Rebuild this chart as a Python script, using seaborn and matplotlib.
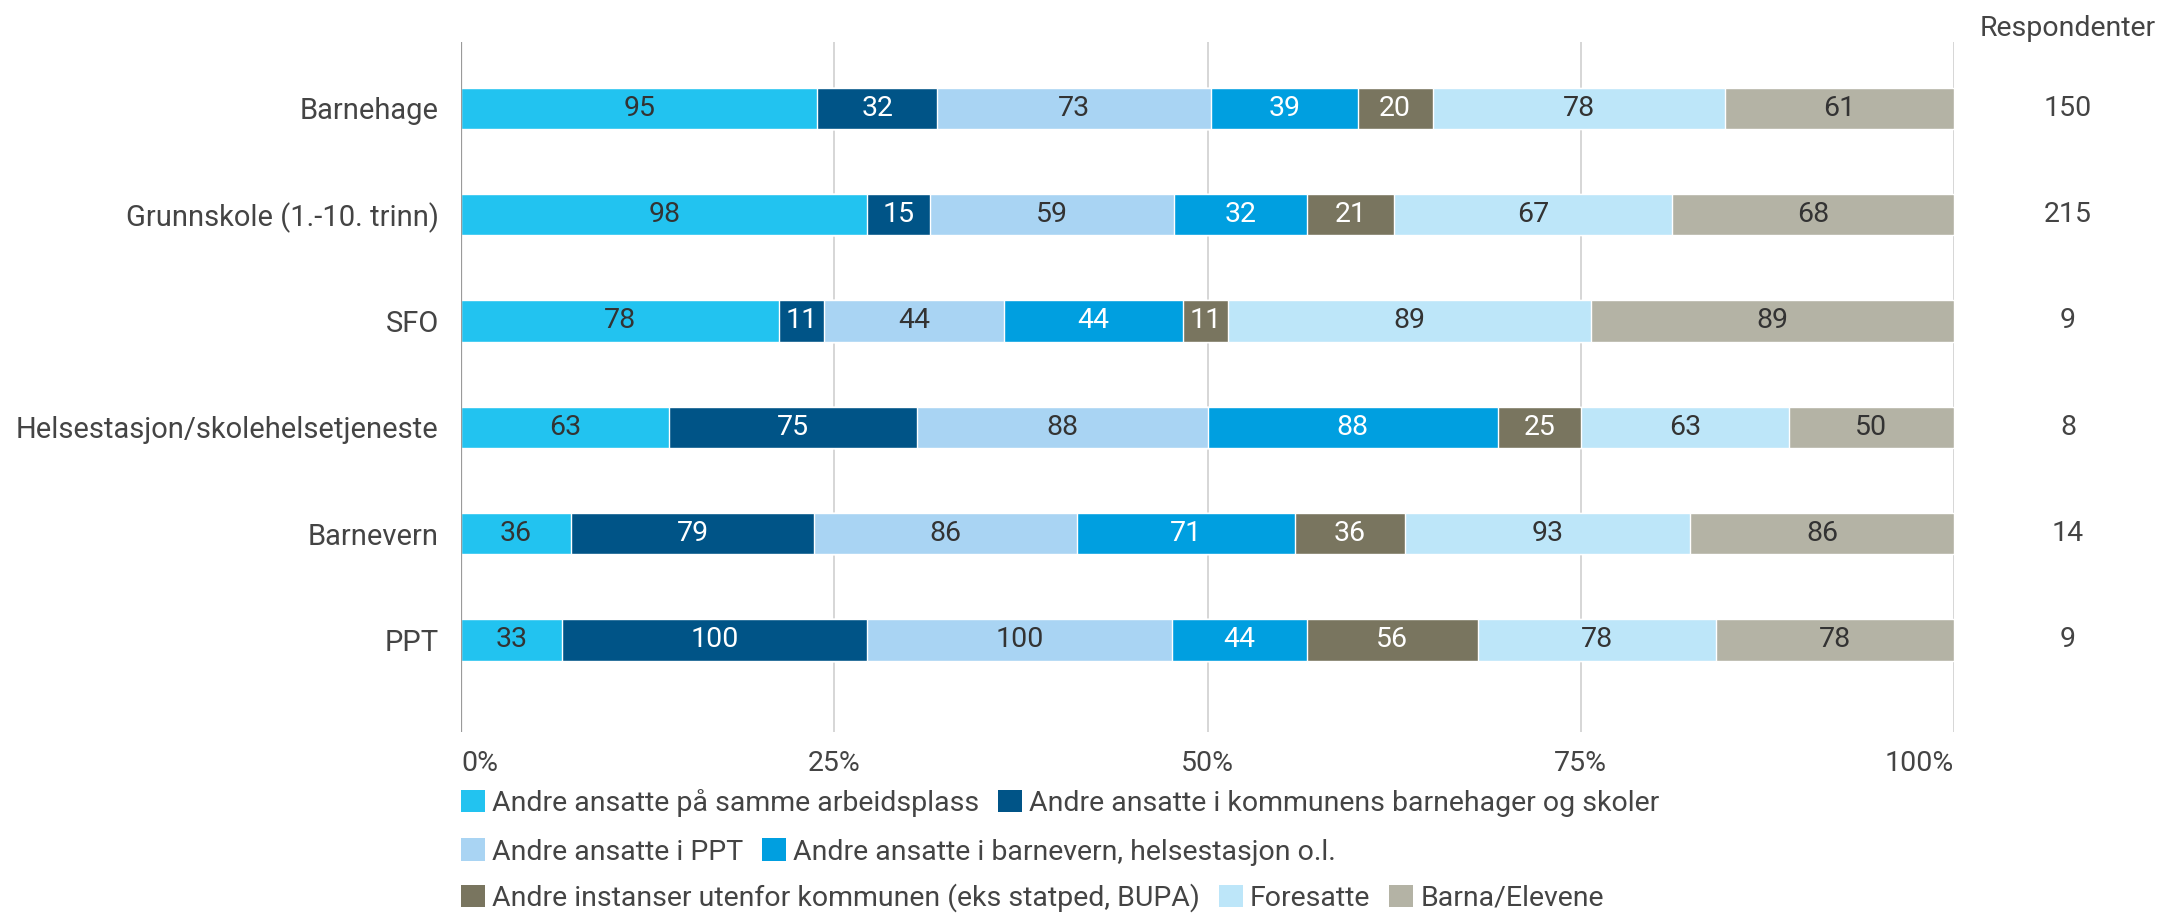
import matplotlib
matplotlib.use("Agg")
import matplotlib.pyplot as plt
import matplotlib.transforms as mtransforms
from matplotlib.patches import Patch
import numpy as np
import pandas as pd
import seaborn as sns

# Respondent groups (rows)
categories = [
    "Barnehage",
    "Grunnskole (1.-10. trinn)",
    "SFO",
    "Helsestasjon/skolehelsetjeneste",
    "Barnevern",
    "PPT",
]

# Series (stack order, left to right)
series = [
    "Andre ansatte på samme arbeidsplass",
    "Andre ansatte i kommunens barnehager og skoler",
    "Andre ansatte i PPT",
    "Andre ansatte i barnevern, helsestasjon o.l.",
    "Andre instanser utenfor kommunen (eks statped, BUPA)",
    "Foresatte",
    "Barna/Elevene",
]

samme_arbeidsplass = [95, 98, 78, 63, 36, 33]
kommunens_skoler = [32, 15, 11, 75, 79, 100]
ansatte_ppt = [73, 59, 44, 88, 86, 100]
barnevern_helse = [39, 32, 44, 88, 71, 44]
utenfor_kommunen = [20, 21, 11, 25, 36, 56]
foresatte = [78, 67, 89, 63, 93, 78]
barna_elevene = [61, 68, 89, 50, 86, 78]

respondenter = [150, 215, 9, 8, 14, 9]
x_ticks = [0, 25, 50, 75, 100]
x_tick_labels = ["0%", "25%", "50%", "75%", "100%"]

colors = ["#22C3F0", "#005487", "#A9D4F3", "#009FE0", "#79755F", "#BDE6F9", "#B4B3A5"]
label_colors = ["#333333", "#FFFFFF", "#333333", "#FFFFFF", "#FFFFFF", "#333333", "#333333"]

values = np.array([samme_arbeidsplass, kommunens_skoler, ansatte_ppt, barnevern_helse,
                   utenfor_kommunen, foresatte, barna_elevene], dtype=float)

# Normalise each row to 100 %
shares = values / values.sum(axis=0) * 100
cum_end = np.cumsum(shares, axis=0)
cum_start = cum_end - shares

sns.set_theme(style="white")
plt.rcParams["font.family"] = ["Roboto", "DejaVu Sans"]
text_color = "#444444"
fs = 20.5
fs_cat = 21.0
fs_leg = 20.5

W, H = 2161, 917
fig = plt.figure(figsize=(W / 100, H / 100), dpi=100)
ax_left, ax_right = 461 / W, 1954 / W
ax_top, ax_bottom = 1 - 41.7 / H, 1 - 732 / H
ax = fig.add_axes([ax_left, ax_bottom, ax_right - ax_left, ax_top - ax_bottom])

# Stacked bars: draw cumulative totals back-to-front
for k in range(len(series) - 1, -1, -1):
    df = pd.DataFrame({"kategori": categories, "verdi": cum_end[k]})
    sns.barplot(data=df, x="verdi", y="kategori", order=categories, orient="h",
                color=colors[k], saturation=1, width=0.39, ax=ax, zorder=3)

# Value labels inside each segment
for k in range(len(series)):
    for i in range(len(categories)):
        xc = (cum_start[k, i] + cum_end[k, i]) / 2
        ax.text(xc, i, f"{int(values[k, i])}", ha="center", va="center",
                fontsize=fs, color=label_colors[k], zorder=5)

ax.set_xlim(0, 100)
ax.set_ylim(5.866, -0.627)
ax.set_xlabel("")
ax.set_ylabel("")
for s in ax.spines.values():
    s.set_visible(False)

# Vertical gridlines
for xv in x_ticks:
    ax.axvline(xv, color="#9A9A9A" if xv == 0 else "#CFCFCF",
               lw=1.6 if xv == 0 else 1.2, zorder=1 if xv else 6)

ax.set_xticks(x_ticks)
ax.set_xticklabels(x_tick_labels)
for j, lab in enumerate(ax.get_xticklabels()):
    lab.set_ha("left" if j == 0 else ("right" if j == len(x_ticks) - 1 else "center"))
ax.tick_params(axis="x", length=0, pad=13, labelsize=fs, labelcolor=text_color)
ax.tick_params(axis="y", length=0, pad=16, labelsize=fs_cat, labelcolor=text_color)

# Respondent counts column
resp_x = (2068 - 461) / (1954 - 461)
trans = mtransforms.blended_transform_factory(ax.transAxes, ax.transData)
for i, n in enumerate(respondenter):
    ax.text(resp_x, i, str(n), transform=trans, ha="center", va="center",
            fontsize=fs, color=text_color, clip_on=False)
fig.text(2068 / W, 1 - 28 / H, "Respondenter", ha="center", va="center",
         fontsize=fs, color=text_color)

# Legend, three rows
handles = [Patch(facecolor=c, edgecolor="none") for c in colors]
rows = [[0, 1], [2, 3], [4, 5, 6]]
row_y = [803, 852, 898]
for idx, yy in zip(rows, row_y):
    fig.legend([handles[j] for j in idx], [series[j] for j in idx],
               loc="center left", bbox_to_anchor=(ax_left, 1 - yy / H),
               ncol=len(idx), frameon=False, fontsize=fs_leg, labelcolor=text_color,
               handlelength=0.85, handleheight=0.85, handletextpad=0.25,
               columnspacing=0.65, borderpad=0, borderaxespad=0)

fig.savefig("out.png", dpi=100, facecolor="white")
